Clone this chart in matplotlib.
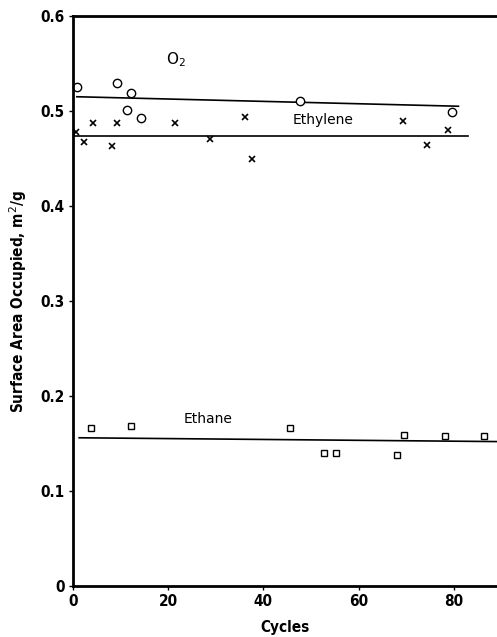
import matplotlib
matplotlib.use("Agg")
import matplotlib.pyplot as plt

# O2 (circles)
o2_x = [0.8, 9.2, 12.2, 11.3, 14.3, 47.7, 79.6]
o2_y = [0.525, 0.529, 0.519, 0.501, 0.493, 0.510, 0.499]
o2_fit_x = [0.8, 81.0]
o2_fit_y = [0.515, 0.505]

# Ethylene (crosses)
eth_x = [0.6, 2.3, 4.2, 9.2, 8.2, 21.4, 28.8, 36.1, 37.6, 69.3, 74.4, 78.8]
eth_y = [0.478, 0.467, 0.487, 0.487, 0.463, 0.487, 0.470, 0.494, 0.449, 0.489, 0.464, 0.480]
eth_fit_x = [0.0, 83.0]
eth_fit_y = [0.474, 0.474]

# Ethane (squares)
ethane_x = [3.8, 12.2, 45.6, 52.7, 55.3, 68.1, 69.5, 78.1, 86.3]
ethane_y = [0.166, 0.168, 0.166, 0.140, 0.140, 0.138, 0.159, 0.158, 0.158]
ethane_fit_x = [1.3, 89.1]
ethane_fit_y = [0.156, 0.152]

fig = plt.figure(figsize=(4.97, 6.37), dpi=100)
ax = fig.add_axes([0.1469, 0.0801, 0.8531, 0.8948])

ax.plot(o2_fit_x, o2_fit_y, "k-", lw=1.2)
ax.plot(eth_fit_x, eth_fit_y, "k-", lw=1.2)
ax.plot(ethane_fit_x, ethane_fit_y, "k-", lw=1.2)

ax.plot(o2_x, o2_y, "o", ms=6, mfc="white", mec="black", mew=1.0, clip_on=False)
ax.plot(eth_x, eth_y, "x", ms=5, color="black", mew=1.2, clip_on=False)
ax.plot(ethane_x, ethane_y, "s", ms=5, mfc="white", mec="black", mew=1.0, clip_on=False)

ax.text(21.6, 0.554, "O$_2$", fontsize=11, ha="center", va="center")
ax.text(52.5, 0.490, "Ethylene", fontsize=10, ha="center", va="center")
ax.text(28.4, 0.176, "Ethane", fontsize=10, ha="center", va="center")

ax.set_xlim(0, 89.1)
ax.set_ylim(0, 0.6)
ax.set_xticks([0, 20, 40, 60, 80])
ax.set_yticks([0, 0.1, 0.2, 0.3, 0.4, 0.5, 0.6])
ax.set_yticklabels(["0", "0.1", "0.2", "0.3", "0.4", "0.5", "0.6"])

for s in ["left", "bottom", "top"]:
    ax.spines[s].set_linewidth(2)
ax.spines["right"].set_visible(False)
ax.tick_params(direction="out", length=3, width=1, pad=3)

for lab in ax.get_xticklabels() + ax.get_yticklabels():
    lab.set_family("DejaVu Sans")
    lab.set_fontstretch("condensed")
    lab.set_fontweight("bold")
    lab.set_fontsize(11)

ax.set_xlabel("Cycles", family="DejaVu Sans", stretch="condensed", fontweight="bold",
              fontsize=11, labelpad=8)
ax.set_ylabel("Surface Area Occupied, m$^2$/g", family="DejaVu Sans", stretch="condensed",
              fontweight="bold", fontsize=11, labelpad=8)

fig.savefig("out.png", dpi=100)
